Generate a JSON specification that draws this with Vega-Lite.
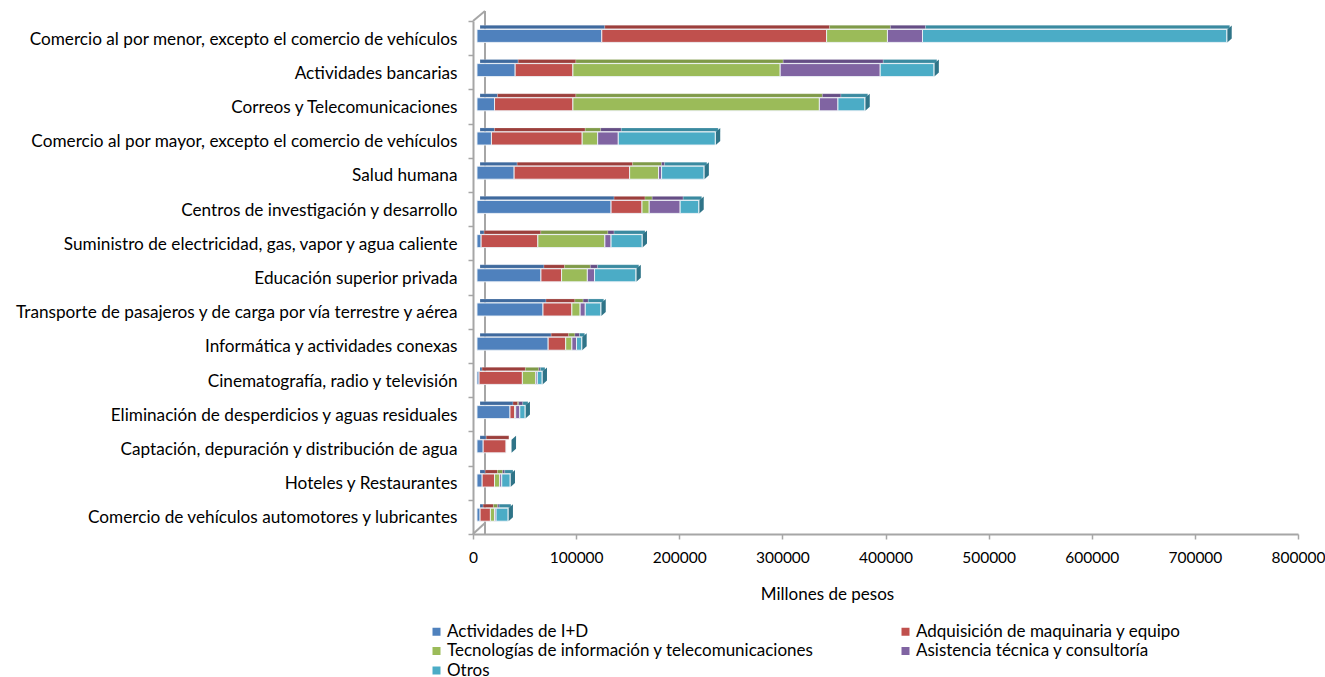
{
"$schema":"https://vega.github.io/schema/vega-lite/v6.json",
"width":825,"height":513,
"autosize":"none",
"padding":{"left":473,"top":21,"right":27,"bottom":143},
"background":"white",
"config":{"view":{"stroke":null},"font":"Lato"},
"datasets":{
"filas":[
{"sector":"Comercio al por menor, excepto el comercio de vehículos","serie":"Actividades de I+D","orden":1,"valor":121000},
{"sector":"Comercio al por menor, excepto el comercio de vehículos","serie":"Adquisición de maquinaria y equipo","orden":2,"valor":218000},
{"sector":"Comercio al por menor, excepto el comercio de vehículos","serie":"Tecnologías de información y telecomunicaciones","orden":3,"valor":59000},
{"sector":"Comercio al por menor, excepto el comercio de vehículos","serie":"Asistencia técnica y consultoría","orden":4,"valor":34000},
{"sector":"Comercio al por menor, excepto el comercio de vehículos","serie":"Otros","orden":5,"valor":295000},
{"sector":"Actividades bancarias","serie":"Actividades de I+D","orden":1,"valor":37000},
{"sector":"Actividades bancarias","serie":"Adquisición de maquinaria y equipo","orden":2,"valor":56000},
{"sector":"Actividades bancarias","serie":"Tecnologías de información y telecomunicaciones","orden":3,"valor":201000},
{"sector":"Actividades bancarias","serie":"Asistencia técnica y consultoría","orden":4,"valor":97000},
{"sector":"Actividades bancarias","serie":"Otros","orden":5,"valor":52000},
{"sector":"Correos y Telecomunicaciones","serie":"Actividades de I+D","orden":1,"valor":17000},
{"sector":"Correos y Telecomunicaciones","serie":"Adquisición de maquinaria y equipo","orden":2,"valor":76000},
{"sector":"Correos y Telecomunicaciones","serie":"Tecnologías de información y telecomunicaciones","orden":3,"valor":239000},
{"sector":"Correos y Telecomunicaciones","serie":"Asistencia técnica y consultoría","orden":4,"valor":18000},
{"sector":"Correos y Telecomunicaciones","serie":"Otros","orden":5,"valor":26000},
{"sector":"Comercio al por mayor, excepto el comercio de vehículos","serie":"Actividades de I+D","orden":1,"valor":14000},
{"sector":"Comercio al por mayor, excepto el comercio de vehículos","serie":"Adquisición de maquinaria y equipo","orden":2,"valor":88000},
{"sector":"Comercio al por mayor, excepto el comercio de vehículos","serie":"Tecnologías de información y telecomunicaciones","orden":3,"valor":15000},
{"sector":"Comercio al por mayor, excepto el comercio de vehículos","serie":"Asistencia técnica y consultoría","orden":4,"valor":20000},
{"sector":"Comercio al por mayor, excepto el comercio de vehículos","serie":"Otros","orden":5,"valor":94000},
{"sector":"Salud humana","serie":"Actividades de I+D","orden":1,"valor":36000},
{"sector":"Salud humana","serie":"Adquisición de maquinaria y equipo","orden":2,"valor":112000},
{"sector":"Salud humana","serie":"Tecnologías de información y telecomunicaciones","orden":3,"valor":28000},
{"sector":"Salud humana","serie":"Asistencia técnica y consultoría","orden":4,"valor":3000},
{"sector":"Salud humana","serie":"Otros","orden":5,"valor":41000},
{"sector":"Centros de investigación y desarrollo","serie":"Actividades de I+D","orden":1,"valor":130000},
{"sector":"Centros de investigación y desarrollo","serie":"Adquisición de maquinaria y equipo","orden":2,"valor":30000},
{"sector":"Centros de investigación y desarrollo","serie":"Tecnologías de información y telecomunicaciones","orden":3,"valor":7000},
{"sector":"Centros de investigación y desarrollo","serie":"Asistencia técnica y consultoría","orden":4,"valor":30000},
{"sector":"Centros de investigación y desarrollo","serie":"Otros","orden":5,"valor":18000},
{"sector":"Suministro de electricidad, gas, vapor y agua caliente","serie":"Actividades de I+D","orden":1,"valor":4000},
{"sector":"Suministro de electricidad, gas, vapor y agua caliente","serie":"Adquisición de maquinaria y equipo","orden":2,"valor":55000},
{"sector":"Suministro de electricidad, gas, vapor y agua caliente","serie":"Tecnologías de información y telecomunicaciones","orden":3,"valor":65000},
{"sector":"Suministro de electricidad, gas, vapor y agua caliente","serie":"Asistencia técnica y consultoría","orden":4,"valor":6000},
{"sector":"Suministro de electricidad, gas, vapor y agua caliente","serie":"Otros","orden":5,"valor":30000},
{"sector":"Educación superior privada","serie":"Actividades de I+D","orden":1,"valor":62000},
{"sector":"Educación superior privada","serie":"Adquisición de maquinaria y equipo","orden":2,"valor":20000},
{"sector":"Educación superior privada","serie":"Tecnologías de información y telecomunicaciones","orden":3,"valor":25000},
{"sector":"Educación superior privada","serie":"Asistencia técnica y consultoría","orden":4,"valor":7000},
{"sector":"Educación superior privada","serie":"Otros","orden":5,"valor":40000},
{"sector":"Transporte de pasajeros y de carga por vía terrestre  y aérea","serie":"Actividades de I+D","orden":1,"valor":64000},
{"sector":"Transporte de pasajeros y de carga por vía terrestre  y aérea","serie":"Adquisición de maquinaria y equipo","orden":2,"valor":28000},
{"sector":"Transporte de pasajeros y de carga por vía terrestre  y aérea","serie":"Tecnologías de información y telecomunicaciones","orden":3,"valor":8000},
{"sector":"Transporte de pasajeros y de carga por vía terrestre  y aérea","serie":"Asistencia técnica y consultoría","orden":4,"valor":5000},
{"sector":"Transporte de pasajeros y de carga por vía terrestre  y aérea","serie":"Otros","orden":5,"valor":15000},
{"sector":"Informática y actividades conexas","serie":"Actividades de I+D","orden":1,"valor":69000},
{"sector":"Informática y actividades conexas","serie":"Adquisición de maquinaria y equipo","orden":2,"valor":17000},
{"sector":"Informática y actividades conexas","serie":"Tecnologías de información y telecomunicaciones","orden":3,"valor":6000},
{"sector":"Informática y actividades conexas","serie":"Asistencia técnica y consultoría","orden":4,"valor":4500},
{"sector":"Informática y actividades conexas","serie":"Otros","orden":5,"valor":5000},
{"sector":"Cinematografía, radio y televisión","serie":"Actividades de I+D","orden":1,"valor":2000},
{"sector":"Cinematografía, radio y televisión","serie":"Adquisición de maquinaria y equipo","orden":2,"valor":42000},
{"sector":"Cinematografía, radio y televisión","serie":"Tecnologías de información y telecomunicaciones","orden":3,"valor":13000},
{"sector":"Cinematografía, radio y televisión","serie":"Asistencia técnica y consultoría","orden":4,"valor":1500},
{"sector":"Cinematografía, radio y televisión","serie":"Otros","orden":5,"valor":4500},
{"sector":"Eliminación de desperdicios y aguas residuales","serie":"Actividades de I+D","orden":1,"valor":32000},
{"sector":"Eliminación de desperdicios y aguas residuales","serie":"Adquisición de maquinaria y equipo","orden":2,"valor":4500},
{"sector":"Eliminación de desperdicios y aguas residuales","serie":"Tecnologías de información y telecomunicaciones","orden":3,"valor":1000},
{"sector":"Eliminación de desperdicios y aguas residuales","serie":"Asistencia técnica y consultoría","orden":4,"valor":4000},
{"sector":"Eliminación de desperdicios y aguas residuales","serie":"Otros","orden":5,"valor":5000},
{"sector":"Captación, depuración y distribución de agua","serie":"Actividades de I+D","orden":1,"valor":6000},
{"sector":"Captación, depuración y distribución de agua","serie":"Adquisición de maquinaria y equipo","orden":2,"valor":22000},
{"sector":"Hoteles y Restaurantes","serie":"Actividades de I+D","orden":1,"valor":5000},
{"sector":"Hoteles y Restaurantes","serie":"Adquisición de maquinaria y equipo","orden":2,"valor":12000},
{"sector":"Hoteles y Restaurantes","serie":"Tecnologías de información y telecomunicaciones","orden":3,"valor":5000},
{"sector":"Hoteles y Restaurantes","serie":"Asistencia técnica y consultoría","orden":4,"valor":2000},
{"sector":"Hoteles y Restaurantes","serie":"Otros","orden":5,"valor":8000},
{"sector":"Comercio de vehículos automotores y lubricantes","serie":"Actividades de I+D","orden":1,"valor":3000},
{"sector":"Comercio de vehículos automotores y lubricantes","serie":"Adquisición de maquinaria y equipo","orden":2,"valor":10000},
{"sector":"Comercio de vehículos automotores y lubricantes","serie":"Tecnologías de información y telecomunicaciones","orden":3,"valor":4000},
{"sector":"Comercio de vehículos automotores y lubricantes","serie":"Asistencia técnica y consultoría","orden":4,"valor":1500},
{"sector":"Comercio de vehículos automotores y lubricantes","serie":"Otros","orden":5,"valor":11500}
],
"totales":[
{"sector":"Comercio al por menor, excepto el comercio de vehículos","total":727000},
{"sector":"Actividades bancarias","total":443000},
{"sector":"Correos y Telecomunicaciones","total":376000},
{"sector":"Comercio al por mayor, excepto el comercio de vehículos","total":231000},
{"sector":"Salud humana","total":220000},
{"sector":"Centros de investigación y desarrollo","total":215000},
{"sector":"Suministro de electricidad, gas, vapor y agua caliente","total":160000},
{"sector":"Educación superior privada","total":154000},
{"sector":"Transporte de pasajeros y de carga por vía terrestre  y aérea","total":120000},
{"sector":"Informática y actividades conexas","total":101500},
{"sector":"Cinematografía, radio y televisión","total":63000},
{"sector":"Eliminación de desperdicios y aguas residuales","total":46500},
{"sector":"Captación, depuración y distribución de agua","total":33000},
{"sector":"Hoteles y Restaurantes","total":32000},
{"sector":"Comercio de vehículos automotores y lubricantes","total":30000}
]
},
"layer":[
{"data":{"name":"totales"},
 "mark":{"type":"rule","color":"#a6a6a6","strokeWidth":2,"xOffset":12,"yOffset":-10},
 "encoding":{"x":{"datum":0,"type":"quantitative","scale":{"domain":[0,800000]}}}},
{"data":{"name":"totales"},
 "transform":[{"filter":"datum.total==727000"}],
 "mark":{"type":"point","shape":"M0,0L12,-10","size":4,"filled":false,"stroke":"#a6a6a6","strokeWidth":2,"opacity":1,"yOffset":-17.1},
 "encoding":{"x":{"datum":0,"type":"quantitative"},"y":{"field":"sector","type":"nominal"}}},
{"data":{"name":"totales"},
 "transform":[{"filter":"datum.total==30000"}],
 "mark":{"type":"point","shape":"M0,0L12,-11","size":4,"filled":false,"stroke":"#a6a6a6","strokeWidth":2,"opacity":1,"yOffset":17.1},
 "encoding":{"x":{"datum":0,"type":"quantitative"},"y":{"field":"sector","type":"nominal"}}},
{"data":{"name":"filas"},
 "mark":{"type":"bar","size":3.5,"xOffset":7,"x2Offset":7,"yOffset":-11,"stroke":"#ffffff","strokeOpacity":0.5,"strokeWidth":0.4},
 "encoding":{
  "x":{"field":"valor","type":"quantitative","stack":"zero"},
  "y":{"field":"sector","type":"nominal"},
  "order":{"field":"orden","type":"quantitative"},
  "color":{"field":"serie","type":"nominal","legend":null,
    "scale":{"domain":["Actividades de I+D","Adquisición de maquinaria y equipo","Tecnologías de información y telecomunicaciones","Asistencia técnica y consultoría","Otros"],"range":["#3f6a9e","#9c3f3c","#7f9a48","#654e85","#3a8aa0"]}}
 }},
{"data":{"name":"totales"},
 "mark":{"type":"point","shape":"M0,-6.5L4.5,-10.5L4.5,2.5L0,6.5Z","size":4,"filled":true,"fill":"#2f7488","opacity":1,"stroke":null,"xOffset":4.5,"yOffset":-2.2},
 "encoding":{"x":{"field":"total","type":"quantitative"},"y":{"field":"sector","type":"nominal"}}},
{"data":{"name":"filas"},
 "mark":{"type":"bar","size":13,"xOffset":4,"x2Offset":4,"yOffset":-2.2,"stroke":"#eef3f7","strokeOpacity":0.9,"strokeWidth":1},
 "encoding":{
  "x":{"field":"valor","type":"quantitative","stack":"zero",
    "scale":{"domain":[0,800000]},
    "axis":{"values":[0,100000,200000,300000,400000,500000,600000,700000,800000],"format":"d","grid":false,"domainColor":"#a6a6a6","domainWidth":2,"tickColor":"#a6a6a6","tickWidth":1.5,"tickSize":5,"labelColor":"#000000","labelFont":"Lato","labelFontSize":15.5,"labelPadding":11,"labelFlush":false,"labelOverlap":false,
      "title":"Millones de pesos","titleFont":"Lato","titleFontSize":17,"titleFontWeight":"normal","titleColor":"#000000","titleX":354,"titleY":52,"titleAnchor":"middle","titleAlign":"center"}},
  "y":{"field":"sector","type":"nominal",
    "scale":{"paddingInner":0,"paddingOuter":0,"domain":["Comercio al por menor, excepto el comercio de vehículos","Actividades bancarias","Correos y Telecomunicaciones","Comercio al por mayor, excepto el comercio de vehículos","Salud humana","Centros de investigación y desarrollo","Suministro de electricidad, gas, vapor y agua caliente","Educación superior privada","Transporte de pasajeros y de carga por vía terrestre  y aérea","Informática y actividades conexas","Cinematografía, radio y televisión","Eliminación de desperdicios y aguas residuales","Captación, depuración y distribución de agua","Hoteles y Restaurantes","Comercio de vehículos automotores y lubricantes"]},
    "axis":{"title":null,"tickBand":"extent","grid":false,"domainColor":"#a6a6a6","domainWidth":2,"tickColor":"#a6a6a6","tickWidth":1.5,"tickSize":5,"labelColor":"#000000","labelFont":"Lato","labelFontSize":17.2,"labelPadding":11,"labelLimit":470,"labelOffset":1}},
  "order":{"field":"orden","type":"quantitative"},
  "color":{"field":"serie","type":"nominal",
    "scale":{"domain":["Actividades de I+D","Adquisición de maquinaria y equipo","Tecnologías de información y telecomunicaciones","Asistencia técnica y consultoría","Otros"],"range":["#4f81bd","#c0504d","#9bbb59","#8064a2","#4bacc6"]},
    "legend":{"title":null,"orient":"none","legendX":-45,"legendY":602,"direction":"horizontal","columns":2,"columnPadding":83,"rowPadding":1.5,"symbolType":"square","symbolSize":64,"symbolStrokeWidth":0,"labelFont":"Lato","labelFontSize":17,"labelColor":"#000000","labelLimit":450,"labelOffset":2}}
 }}
],
"resolve":{"scale":{"color":"independent"}}
}
